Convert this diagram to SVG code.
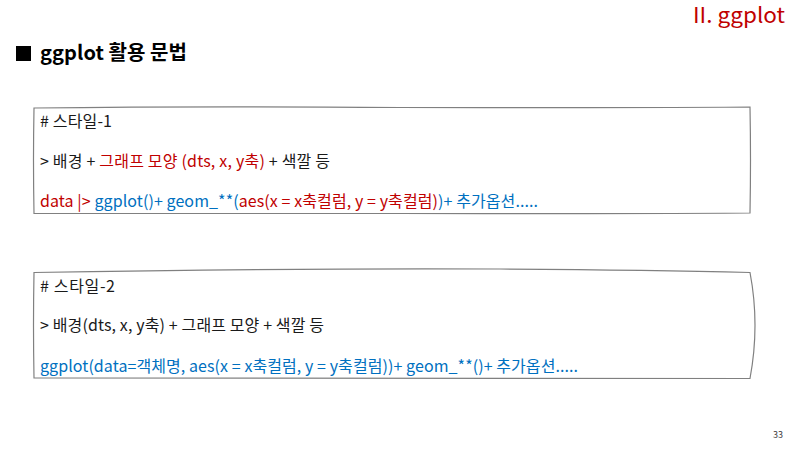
<svg xmlns="http://www.w3.org/2000/svg" width="800" height="450" viewBox="0 0 800 450">
<style>
text{font-family:"Noto Sans CJK KR","Noto Sans",sans-serif;}
.t{font-size:16px;fill:#1a1a1a;}
.r{fill:#c00000;}
.b{fill:#0070c0;}
.box{fill:#ffffff;stroke:#808080;stroke-width:1.2;}
</style>
<rect width="800" height="450" fill="#ffffff"/>
<text x="693" y="23" font-size="21" fill="#c00000" textLength="92" lengthAdjust="spacingAndGlyphs">II. ggplot</text>
<g id="title">
<rect x="16" y="46" width="15" height="15" fill="#000000"/>
<text x="40" y="60" font-size="20" font-weight="bold" fill="#000000" textLength="147">ggplot 활용 문법</text>
</g>
<g id="connectors"/>
<g id="style1">
<path class="box" d="M34,108 Q200,106 400,107.5 Q600,108 750,107 Q751,160 750,213 Q600,214 400,213.5 Q200,213 34,213.5 Q33,160 34,108 Z"/>
<text class="t" x="40" y="127" textLength="72"># 스타일-1</text>
<text class="t" x="40" y="167" textLength="290">&gt; 배경 + <tspan class="r">그래프 모양 (dts, x, y축)</tspan> + 색깔 등</text>
<text class="t" x="40" y="207" textLength="498"><tspan class="r">data |&gt; </tspan><tspan class="b">ggplot()+ geom_**(</tspan><tspan class="r">aes(x = x축컬럼, y = y축컬럼)</tspan><tspan class="b">)+ 추가옵션.....</tspan></text>
</g>
<g id="style2">
<path class="box" d="M34,272.5 Q300,268 500,269 Q650,270 750,272.5 Q760,325 750,378.5 Q400,379 34,378 Q33,325 34,272.5 Z"/>
<text class="t" x="40" y="292" textLength="75"># 스타일-2</text>
<text class="t" x="40" y="331" textLength="284">&gt; 배경(dts, x, y축) + 그래프 모양 + 색깔 등</text>
<text class="t b" x="40" y="372" textLength="538">ggplot(data=객체명, aes(x = x축컬럼, y = y축컬럼))+ geom_**()+ 추가옵션.....</text>
</g>
<text x="783" y="438" font-size="9" fill="#404040" text-anchor="end">33</text>
</svg>
